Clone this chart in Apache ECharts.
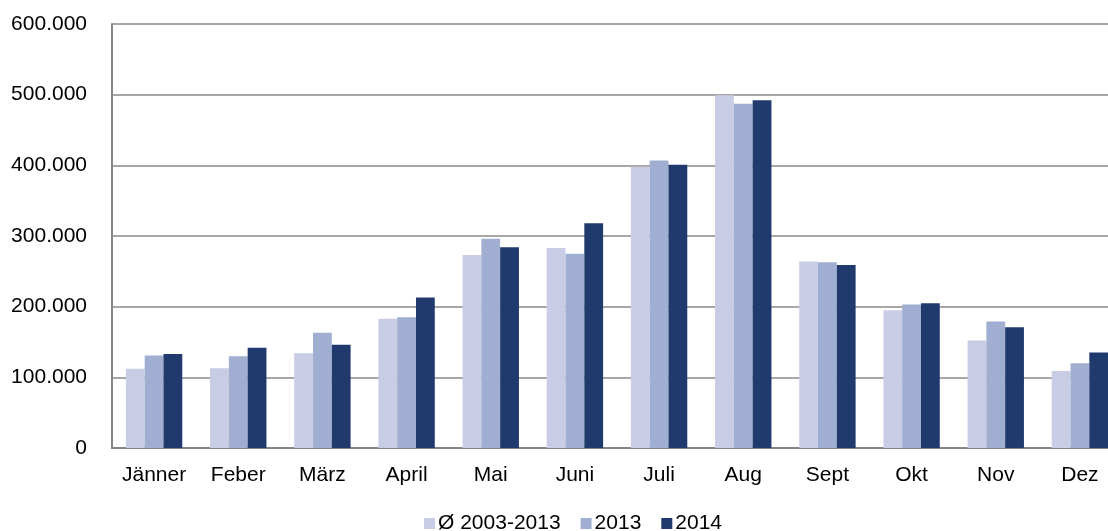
<!DOCTYPE html>
<html>
<head>
<meta charset="utf-8">
<script src="https://cdn.jsdelivr.net/npm/echarts@6/dist/echarts.min.js"></script>
<style>
html,body{margin:0;padding:0;background:#fff;overflow:hidden;width:1108px;height:531px;}
#chart{width:1122px;height:531px;}
</style>
</head>
<body>
<div id="chart"></div>
<script>
const categories = ['Jänner','Feber','März','April','Mai','Juni','Juli','Aug','Sept','Okt','Nov','Dez'];
const seriesNames = ['Ø 2003-2013','2013','2014'];
const avg2003_2013 = [112000,113000,134000,183000,273000,283000,398000,499000,264000,195000,152000,109000];
const values2013   = [131000,130000,163000,185000,296000,275000,407000,487000,263000,203000,179000,120000];
const values2014   = [133000,142000,146000,213000,284000,318000,401000,492000,259000,205000,171000,135000];
const yTicks = [0,100000,200000,300000,400000,500000,600000];
const colors = ['#C8CCE4','#A0AED2','#213A6D'];

function fmt(v){
  if (v === 0) return '0';
  return String(v).replace(/\B(?=(\d{3})+(?!\d))/g, '.');
}

const chart = echarts.init(document.getElementById('chart'));
const font = 'Liberation Sans, Arial, sans-serif';
chart.setOption({
  animation: false,
  textStyle: {fontFamily: font},
  grid: {left: 112, right: 0, top: 24, bottom: 83, containLabel: false},
  legend: {
    left: 419, top: 508,
    itemWidth: 11, itemHeight: 11, itemGap: 20,
    icon: 'rect',
    textStyle: {fontSize: 21, color: '#000', fontFamily: font, padding: [0,0,0,-2]},
    data: seriesNames
  },
  xAxis: {
    type: 'category',
    data: categories,
    axisLine: {lineStyle: {color: '#868686', width: 2}},
    axisTick: {show: false},
    axisLabel: {color: '#000', fontSize: 21, margin: 17, fontFamily: font, interval: 0}
  },
  yAxis: {
    type: 'value',
    min: yTicks[0], max: yTicks[yTicks.length-1], interval: 100000,
    axisLine: {show: true, lineStyle: {color: '#868686', width: 2}},
    axisTick: {show: false},
    splitLine: {lineStyle: {color: '#8a8a8a', width: 1.5}},
    axisLabel: {color: '#000', fontSize: 21, margin: 25, fontFamily: font, formatter: fmt}
  },
  series: [
    {name: seriesNames[0], type: 'bar', data: avg2003_2013, itemStyle: {color: colors[0]}, barGap: '0%', barCategoryGap: '33%'},
    {name: seriesNames[1], type: 'bar', data: values2013, itemStyle: {color: colors[1]}, barGap: '0%', barCategoryGap: '33%'},
    {name: seriesNames[2], type: 'bar', data: values2014, itemStyle: {color: colors[2]}, barGap: '0%', barCategoryGap: '33%'}
  ]
});
</script>
</body>
</html>
